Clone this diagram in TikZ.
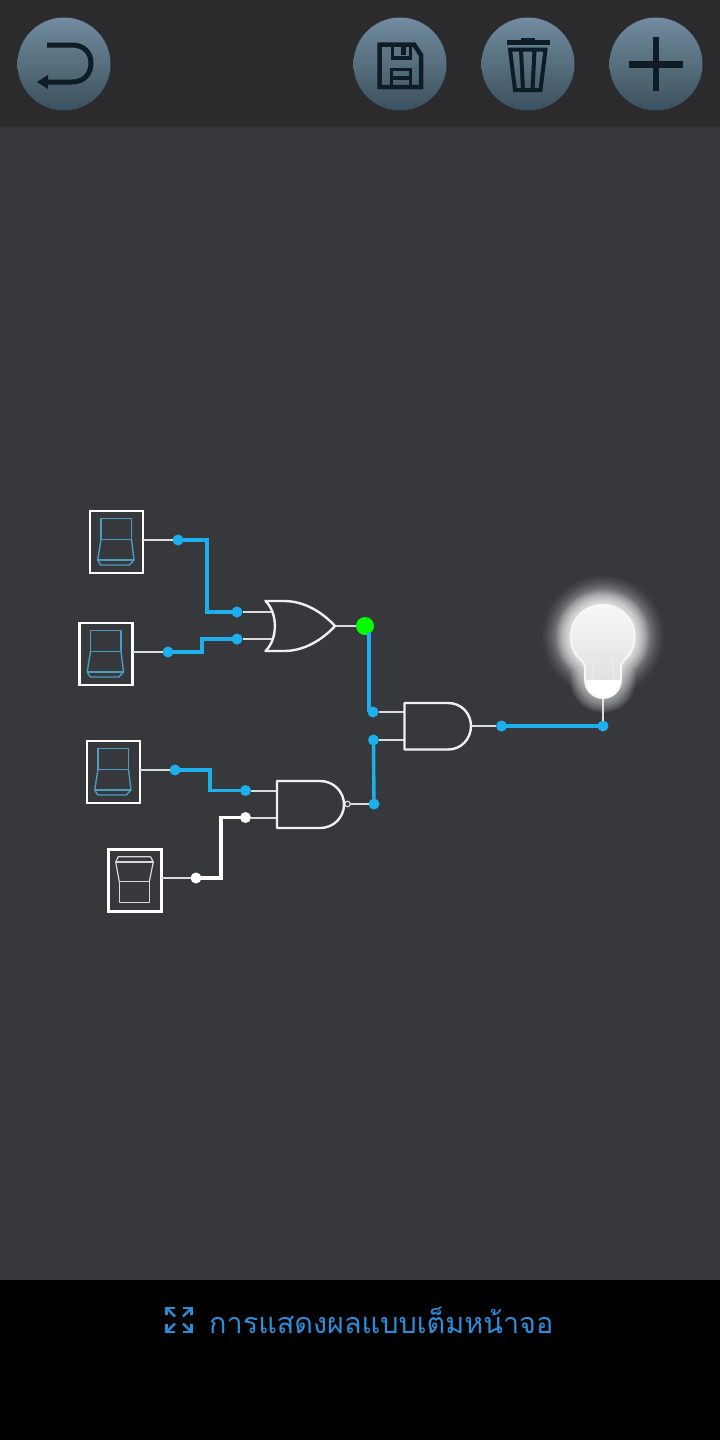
\documentclass[tikz,border=0pt]{standalone}
\usepackage{fontspec}
\newfontfamily\thaifont[Script=Thai]{Loma}
\usetikzlibrary{arrows.meta}
\definecolor{barbg}{HTML}{2B2B2D}
\definecolor{canvasbg}{HTML}{37383C}
\definecolor{btntop}{HTML}{708C9E}
\definecolor{btnbot}{HTML}{3C505D}
\definecolor{iconc}{HTML}{0E1C26}
\definecolor{wireblue}{HTML}{1CAFEC}
\definecolor{swblue}{HTML}{4A9CC0}
\definecolor{stubc}{HTML}{DADADA}
\definecolor{linkblue}{HTML}{2C8EDB}
\tikzset{
  btn/.style={circle,minimum size=93pt,inner sep=0pt,outer sep=0pt,top color=btntop,bottom color=btnbot},
  icon/.style={draw=iconc,line width=4pt},
  iconfill/.style={fill=iconc},
  swbox/.style={draw=white,line width=2.5pt,minimum width=53pt,minimum height=62pt,inner sep=0pt,outer sep=0pt},
  swon/.style={draw=swblue,line width=1.4pt,line join=round},
  swoff/.style={draw=black!15,line width=1.2pt,line join=round},
  port/.style={circle,fill=wireblue,minimum size=11pt,inner sep=0pt,outer sep=0pt},
  wport/.style={circle,fill=white,minimum size=11pt,inner sep=0pt,outer sep=0pt},
  stub/.style={draw=stubc,line width=2pt},
  bwire/.style={draw=wireblue,line width=3.4pt,line join=miter},
  wwire/.style={draw=white,line width=3.2pt,line join=miter},
  gatebody/.style={draw=black!6,line width=2.4pt,line join=round},
  bubble/.style={circle,draw=stubc,line width=1.2pt,minimum size=5.5pt,inner sep=0pt,outer sep=0pt},
  expandic/.style={draw=linkblue,line width=2.3pt}
}
\newcommand{\bulbshape}{(585,680) -- (585,668) .. controls (585,663) and (581,660) .. (577.7,656.7)
  .. controls (573.3,651.5) and (570.7,644.5) .. (570.7,636.7)
  .. controls (570.7,619) and (585,604.7) .. (602.7,604.7)
  .. controls (620.4,604.7) and (634.7,619) .. (634.7,636.7)
  .. controls (634.7,644.5) and (632.1,651.5) .. (627.7,656.7)
  .. controls (624,660) and (621,663) .. (621,668) -- (621,680)
  .. controls (621,690) and (613,698) .. (603,698)
  .. controls (593,698) and (585,690) .. (585,680) -- cycle}
\newcommand{\switchon}[2]{\begin{scope}[shift={(#1,#2)}]
  \draw[swon] (11,7.5) rectangle (41.5,28.5);
  \draw[swon] (11,28.5) -- (7.7,49) -- (10.7,54) -- (39.3,54) -- (44,49) -- (41.5,28.5);
  \draw[swon] (7.7,49) -- (44,49);
\end{scope}}
\begin{document}
\begin{tikzpicture}[x=1pt,y=-1pt]
\useasboundingbox (0,0) rectangle (720,1440);
\fill[canvasbg] (0,0) rectangle (720,1280);
\fill[barbg] (0,0) rectangle (720,127);
\fill[black] (0,1280) rectangle (720,1440);
% buttons
\node[btn] (bback) at (64,64) {};
\node[btn] (bsave) at (400,64) {};
\node[btn] (btrash) at (528,64) {};
\node[btn] (bplus) at (656,64) {};
% back icon
\draw[icon,line width=5pt] (47,45) -- (72,45) .. controls (84,45) and (91,53) .. (91,63) .. controls (91,74) and (84,82) .. (72,82) -- (45,82);
\fill[iconfill] (37,82) -- (48,75) -- (48,89) -- cycle;
% save icon
\draw[icon,line width=4.5pt,line join=miter] (379.5,44.5) -- (414,44.5) -- (421,55) -- (421,87) -- (379.5,87) -- cycle;
\draw[icon,line width=3.5pt] (392.5,44.5) -- (392.5,58) -- (410.5,58) -- (410.5,44.5);
\fill[iconfill] (400.5,47) rectangle (405.5,55);
\draw[icon,line width=3.5pt] (391.5,87) -- (391.5,69.5) -- (410.5,69.5) -- (410.5,87);
\draw[icon,line width=3.5pt] (391.5,78) -- (410.5,78);
% trash icon
\fill[iconfill] (506.5,40) rectangle (549.5,44.5);
\fill[iconfill] (521,37.5) rectangle (535,41);
\draw[icon,line width=4pt,line join=miter] (510,49.5) -- (545.5,49.5) -- (540.5,90) -- (515,90) -- cycle;
\draw[icon,line width=4pt] (521,50) -- (523,90);
\draw[icon,line width=4pt] (534.5,50) -- (532.5,90);
% plus icon
\fill[iconfill] (653,36.5) rectangle (659,91);
\fill[iconfill] (629,60.5) rectangle (683,67.5);
% ports
\node[port] (p1) at (178,540) {};
\node[port] (p2) at (237,612) {};
\node[port] (p3) at (168,652) {};
\node[port] (p4) at (237,639) {};
\node[port] (p5) at (175,770) {};
\node[port] (p6) at (245.5,790.5) {};
\node[wport] (p7) at (196,878) {};
\node[wport] (p8) at (245.5,817.5) {};
\node[port] (p9) at (373,712) {};
\node[port] (p10) at (373.5,740) {};
\node[port] (p11) at (374,804) {};
\node[port] (p12) at (501.5,726) {};
\node[port] (p13) at (603,726) {};
\node[circle,fill=green,minimum size=18pt,inner sep=0pt,outer sep=0pt] (led) at (365,626) {};
% switches
\node[swbox] (s1) at (116.5,542) {};
\node[swbox] (s2) at (106,654) {};
\node[swbox] (s3) at (113.5,772) {};
\node[swbox] (s4) at (134.8,880.5) {};
\switchon{90}{511}
\switchon{79.5}{623}
\switchon{87}{741}
\draw[swoff] (119.3,881.7) rectangle (149.3,902.7);
\draw[swoff] (119.3,881.7) -- (115.7,862) -- (118.3,856.7) -- (150.5,856.7) -- (153.3,862) -- (149.3,881.7);
\draw[swoff] (115.7,862) -- (153.3,862);
% gate pins and routing points
\coordinate (orin1) at (272,612);
\coordinate (orin2) at (272,639);
\coordinate (orout) at (335,626);
\coordinate (nandin1) at (277,790.5);
\coordinate (nandin2) at (277,817.5);
\coordinate (nandout) at (344,804);
\node[bubble] (nb) at (347.5,804) {};
\coordinate (andin1) at (404,712);
\coordinate (andin2) at (404,740);
\coordinate (andout) at (471,726);
\coordinate (bulbbase) at (603,698);
\coordinate (r1) at (207,576);
\coordinate (r2) at (202,645);
\coordinate (r3) at (210,780);
\coordinate (r4) at (221,848);
\coordinate (r5) at (369,632);
\coordinate (r6) at (369,712);
% stubs
\draw[stub] (p1 -| s1.east) -- (p1);
\draw[stub] (p3 -| s2.east) -- (p3);
\draw[stub] (p5 -| s3.east) -- (p5);
\draw[stub] (p7 -| s4.east) -- (p7);
\draw[stub] (p2) -- (orin1);
\draw[stub] (p4) -- (orin2);
\draw[stub] (p6) -- (nandin1);
\draw[stub] (p8) -- (nandin2);
\draw[stub] (orout) -- (led);
\draw[stub] (nb) -- (p11);
\draw[stub] (p9) -- (andin1);
\draw[stub] (p10) -- (andin2);
\draw[stub] (andout) -- (p12);
\draw[stub] (p13) -- (bulbbase);
% wires
\draw[bwire] (p1.center) -| (r1) |- (p2.center);
\draw[bwire] (p3.center) -| (r2) |- (p4.center);
\draw[bwire] (p5.center) -| (r3) |- (p6.center);
\draw[wwire] (p7.center) -| (r4) |- (p8.center);
\draw[bwire] (r5) -- (r6);
\draw[bwire] (p11.center) -- (p10.center);
\draw[bwire] (p12.center) -- (p13.center);
% gates
\draw[gatebody] (265.5,601) -- (284,601) .. controls (305,601) and (323,613) .. (335,626)
  .. controls (323,639) and (305,651) .. (284,651) -- (265.5,651)
  .. controls (278,639) and (278,613) .. (265.5,601) -- cycle;
\draw[gatebody] (277,781) -- (320,781) .. controls (334,781) and (344,792) .. (344,804.5)
  .. controls (344,817) and (334,828) .. (320,828) -- (277,828) -- cycle;
\draw[gatebody] (404.5,703) -- (448,703) .. controls (462,703) and (471,714) .. (471,726)
  .. controls (471,738) and (462,749.5) .. (448,749.5) -- (404.5,749.5) -- cycle;
% lamp glow: soft halo round the head, tighter round the whole bulb
\foreach \r in {61,60,...,33}{
  \pgfmathsetmacro{\alp}{0.014+0.05*(61-\r)/28}
  \fill[white,opacity=\alp] (603,636) circle[radius=\r];
}
\foreach \w in {30,28,...,2}{
  \draw[white,opacity=0.05,line width=\w pt,line join=round] \bulbshape;
}
\shade[top color=white!97!black,bottom color=white!86!black,draw=none] \bulbshape;
\draw[white,opacity=.22,line width=2pt] (594,660) -- (592,680);
\draw[white,opacity=.22,line width=2pt] (612,660) -- (614,680);
\fill[white] (585,680) -- (621,680) .. controls (621,690) and (613,698) .. (603,698) .. controls (593,698) and (585,690) .. (585,680) -- cycle;
\draw[white!97!black,line width=1.8pt] \bulbshape;
% bottom banner
\node[text=linkblue,anchor=west,inner sep=0pt,font=\thaifont\fontsize{28.8}{32}\selectfont] (banner) at (209,1320) {การแสดงผลแบบเต็มหน้าจอ};
\draw[expandic] (166.5,1315) -- (166.5,1308) -- (175,1308);
\draw[expandic] (182.5,1308) -- (191.5,1308) -- (191.5,1315);
\draw[expandic] (166.5,1324) -- (166.5,1332) -- (175,1332);
\draw[expandic] (182.5,1332) -- (191.5,1332) -- (191.5,1324);
\draw[expandic] (167,1308.5) -- (175,1316.5);
\draw[expandic] (191,1308.5) -- (183,1316.5);
\draw[expandic] (167,1331.5) -- (175,1323.5);
\draw[expandic] (191,1331.5) -- (183,1323.5);
\end{tikzpicture}
\end{document}
